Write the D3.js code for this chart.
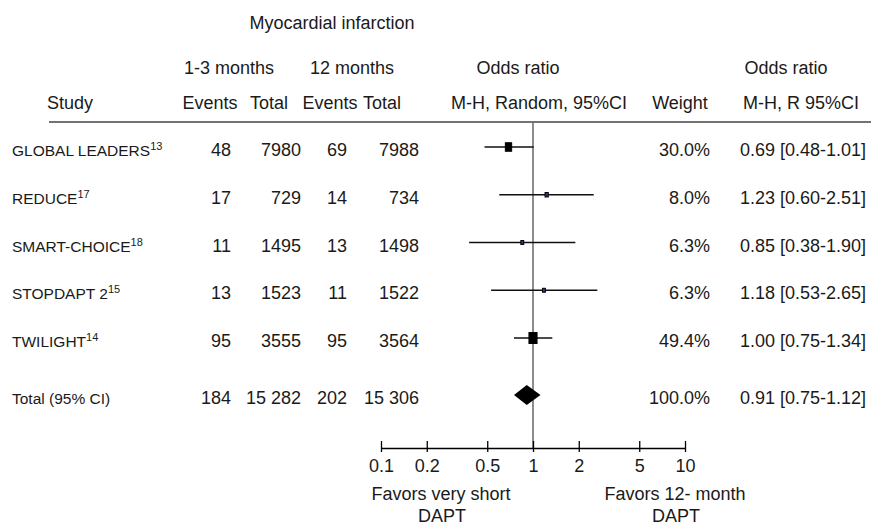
<!DOCTYPE html>
<html>
<head>
<meta charset="utf-8">
<script src="https://cdn.jsdelivr.net/npm/d3@7"></script>
<style>
  html, body { margin: 0; padding: 0; background: #fff; }
  svg { display: block; }
  text { font-family: "Liberation Sans", Arial, Helvetica, sans-serif; fill: #1a1a1a; }
</style>
</head>
<body>
<svg id="chart" width="871" height="526"></svg>
<script>
// ---------- data ----------
const studies   = ["GLOBAL LEADERS", "REDUCE", "SMART-CHOICE", "STOPDAPT 2", "TWILIGHT"];
const refs      = ["13", "17", "18", "15", "14"];
const shortEvents = [48, 17, 11, 13, 95];
const shortTotal  = [7980, 729, 1495, 1523, 3555];
const longEvents  = [69, 14, 13, 11, 95];
const longTotal   = [7988, 734, 1498, 1522, 3564];
const oddsRatio = [0.69, 1.23, 0.85, 1.18, 1.00];
const ciLow     = [0.48, 0.60, 0.38, 0.53, 0.75];
const ciHigh    = [1.01, 2.51, 1.90, 2.65, 1.34];
const weights   = [30.0, 8.0, 6.3, 6.3, 49.4];

const totalLabel = "Total (95% CI)";
const totalShortEvents = 184, totalShortN = 15282;
const totalLongEvents = 202, totalLongN = 15306;
const totalOR = 0.91, totalLow = 0.75, totalHigh = 1.12, totalWeight = 100.0;

const axisTicks = [0.1, 0.2, 0.5, 1, 2, 5, 10];

// ---------- helpers ----------
const fmtN = v => v >= 10000 ? d3.format(",")(v).replace(/,/g, " ") : String(v);
const fmt2 = d3.format(".2f");
const fmtW = d3.format(".1f");

const svg = d3.select("#chart");
const x = d3.scaleLog().domain([0.1, 10]).range([381, 685]);
const rowY = d3.scaleLinear().domain([0, 4]).range([147, 338]);
const totalY = 395;
const axisY = 448;
const size = d3.scaleSqrt().domain([0, 100]).range([0, 16]);

function txt(xp, yp, s, opts = {}) {
  return svg.append("text")
    .attr("x", xp).attr("y", yp)
    .attr("text-anchor", opts.anchor || "start")
    .style("font-size", (opts.size || 18) + "px")
    .text(s);
}

// ---------- headers ----------
txt(332, 29, "Myocardial infarction", {anchor: "middle"});
txt(229, 74, "1-3 months", {anchor: "middle"});
txt(352, 74, "12 months", {anchor: "middle"});
txt(518, 74, "Odds ratio", {anchor: "middle"});
txt(786, 74, "Odds ratio", {anchor: "middle"});
txt(70, 109, "Study", {anchor: "middle"});
txt(210, 109, "Events", {anchor: "middle"});
txt(269, 109, "Total", {anchor: "middle"});
txt(330, 109, "Events", {anchor: "middle"});
txt(382, 109, "Total", {anchor: "middle"});
txt(539, 109, "M-H, Random, 95%CI", {anchor: "middle"});
txt(680, 109, "Weight", {anchor: "middle"});
txt(801, 109, "M-H, R 95%CI", {anchor: "middle"});

svg.append("line").attr("x1", 49).attr("x2", 871).attr("y1", 122).attr("y2", 122)
  .attr("stroke", "#444").attr("stroke-width", 1.6);

// ---------- null line ----------
svg.append("line").attr("x1", x(1)).attr("x2", x(1)).attr("y1", 122).attr("y2", axisY)
  .attr("stroke", "#707070").attr("stroke-width", 1.6);

// ---------- study rows ----------
studies.forEach((s, i) => {
  const y = rowY(i);
  const tb = y + 9;
  const t = svg.append("text").attr("x", 12).attr("y", tb).style("font-size", "15.5px");
  t.append("tspan").text(s);
  t.append("tspan").attr("dy", -6).style("font-size", "11px").text(refs[i]);

  txt(231, tb, fmtN(shortEvents[i]), {anchor: "end"});
  txt(301, tb, fmtN(shortTotal[i]), {anchor: "end"});
  txt(347, tb, fmtN(longEvents[i]), {anchor: "end"});
  txt(419, tb, fmtN(longTotal[i]), {anchor: "end"});
  txt(710, tb, fmtW(weights[i]) + "%", {anchor: "end"});
  txt(740, tb, `${fmt2(oddsRatio[i])} [${fmt2(ciLow[i])}-${fmt2(ciHigh[i])}]`);

  svg.append("line")
    .attr("x1", x(ciLow[i])).attr("x2", x(ciHigh[i]))
    .attr("y1", y).attr("y2", y)
    .attr("stroke", "#111").attr("stroke-width", 1.4);

  const w = size(weights[i]) * 0.72;
  const h = w * 1.35;
  svg.append("rect")
    .attr("x", x(oddsRatio[i]) - w / 2).attr("y", y - h / 2)
    .attr("width", w).attr("height", h)
    .attr("fill", w < 6 ? "#2a3990" : "#000")
    .attr("stroke", "#000").attr("stroke-width", 1);
});

// ---------- total row ----------
{
  const tb = totalY + 9;
  txt(12, tb, totalLabel, {size: 15.5});
  txt(231, tb, fmtN(totalShortEvents), {anchor: "end"});
  txt(301, tb, fmtN(totalShortN), {anchor: "end"});
  txt(347, tb, fmtN(totalLongEvents), {anchor: "end"});
  txt(419, tb, fmtN(totalLongN), {anchor: "end"});
  txt(710, tb, fmtW(totalWeight) + "%", {anchor: "end"});
  txt(740, tb, `${fmt2(totalOR)} [${fmt2(totalLow)}-${fmt2(totalHigh)}]`);

  const hh = 10;
  const pts = [[x(totalLow), totalY], [x(totalOR), totalY - hh], [x(totalHigh), totalY], [x(totalOR), totalY + hh]];
  svg.append("path").attr("d", d3.line()(pts) + "Z").attr("fill", "#000");
}

// ---------- axis ----------
const axis = d3.axisBottom(x).tickValues(axisTicks).tickSize(0).tickFormat(d => String(d));
const ag = svg.append("g").attr("transform", `translate(0,${axisY})`).call(axis);
ag.select(".domain").attr("stroke", "#000").attr("stroke-width", 1.3);
ag.selectAll(".tick line").remove();
ag.selectAll(".tick").append("line")
  .attr("y1", -7).attr("y2", 4).attr("stroke", "#000").attr("stroke-width", 1.3);
ag.selectAll(".tick text")
  .attr("y", 24).attr("dy", 0)
  .style("font-size", "18px")
  .style("font-family", "\"Liberation Sans\", Arial, Helvetica, sans-serif")
  .attr("fill", "#1a1a1a");

// ---------- favors labels ----------
txt(441, 500, "Favors very short", {anchor: "middle"});
txt(442, 522, "DAPT", {anchor: "middle"});
txt(675, 500, "Favors 12- month", {anchor: "middle"});
txt(676, 522, "DAPT", {anchor: "middle"});
</script>
</body>
</html>
